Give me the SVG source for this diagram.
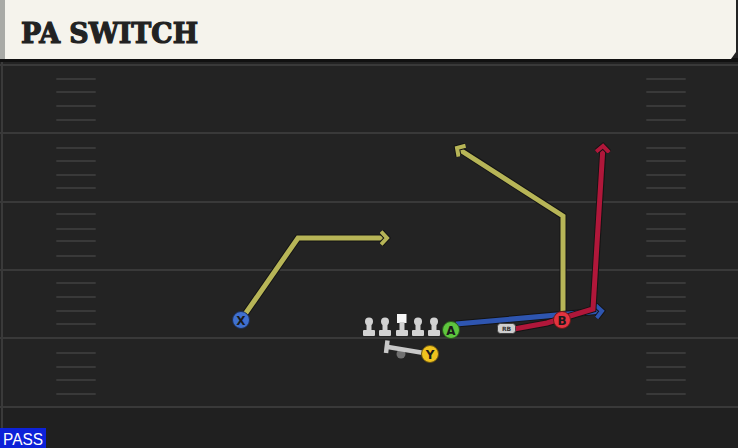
<svg xmlns="http://www.w3.org/2000/svg" width="738" height="448" viewBox="0 0 738 448">
<defs>
<style>
.hash{stroke:#393939;stroke-width:2;stroke-linecap:round;}
.rt{fill:none;stroke-linejoin:miter;stroke-width:5;}
.rto{fill:none;stroke:#141414;stroke-width:7;stroke-linejoin:miter;}
.lbl{font-family:"DejaVu Sans","Liberation Sans",sans-serif;font-weight:bold;font-size:12px;fill:#1a1a1a;text-anchor:middle;}
.ol{fill:#d2d2d2;}
</style>
<marker id="ay" markerWidth="12" markerHeight="16" refX="7" refY="8" orient="auto" markerUnits="userSpaceOnUse"><polyline points="1,1.5 7,8 1,14.5" fill="none" stroke="#141414" stroke-width="6"/><polyline points="1,1.5 7,8 1,14.5" fill="none" stroke="#b7b557" stroke-width="4"/></marker>
<marker id="ar" markerWidth="12" markerHeight="16" refX="7" refY="8" orient="auto" markerUnits="userSpaceOnUse"><polyline points="1,1.5 7,8 1,14.5" fill="none" stroke="#141414" stroke-width="6"/><polyline points="1,1.5 7,8 1,14.5" fill="none" stroke="#b0173a" stroke-width="4"/></marker>
<marker id="ab" markerWidth="12" markerHeight="16" refX="7" refY="8" orient="auto" markerUnits="userSpaceOnUse"><polyline points="1,1.5 7,8 1,14.5" fill="none" stroke="#141414" stroke-width="6"/><polyline points="1,1.5 7,8 1,14.5" fill="none" stroke="#2e55b0" stroke-width="4"/></marker>
</defs>
<rect width="738" height="448" fill="#232323"/>
<rect x="0" y="408" width="738" height="40" fill="#202020"/>
<rect x="1" y="60" width="2" height="388" fill="#3a3a3a"/>
<g id="field">
<g stroke="#393939" stroke-width="2">
<line x1="0" y1="65" x2="738" y2="65"/>
<line x1="0" y1="133" x2="738" y2="133"/>
<line x1="0" y1="202" x2="738" y2="202"/>
<line x1="0" y1="270" x2="738" y2="270"/>
<line x1="0" y1="338" x2="738" y2="338"/>
<line x1="0" y1="407" x2="738" y2="407"/>
</g>
<g class="hash">
<line x1="57" y1="79" x2="95" y2="79"/><line x1="57" y1="92" x2="95" y2="92"/><line x1="57" y1="106" x2="95" y2="106"/><line x1="57" y1="120" x2="95" y2="120"/>
<line x1="57" y1="148" x2="95" y2="148"/><line x1="57" y1="161" x2="95" y2="161"/><line x1="57" y1="175" x2="95" y2="175"/><line x1="57" y1="188" x2="95" y2="188"/>
<line x1="57" y1="214" x2="95" y2="214"/><line x1="57" y1="229" x2="95" y2="229"/><line x1="57" y1="241" x2="95" y2="241"/><line x1="57" y1="256" x2="95" y2="256"/>
<line x1="57" y1="283" x2="95" y2="283"/><line x1="57" y1="297" x2="95" y2="297"/><line x1="57" y1="311" x2="95" y2="311"/><line x1="57" y1="324" x2="95" y2="324"/>
<line x1="57" y1="353" x2="95" y2="353"/><line x1="57" y1="367" x2="95" y2="367"/><line x1="57" y1="380" x2="95" y2="380"/><line x1="57" y1="394" x2="95" y2="394"/>
<line x1="647" y1="79" x2="685" y2="79"/><line x1="647" y1="92" x2="685" y2="92"/><line x1="647" y1="106" x2="685" y2="106"/><line x1="647" y1="120" x2="685" y2="120"/>
<line x1="647" y1="148" x2="685" y2="148"/><line x1="647" y1="161" x2="685" y2="161"/><line x1="647" y1="175" x2="685" y2="175"/><line x1="647" y1="188" x2="685" y2="188"/>
<line x1="647" y1="214" x2="685" y2="214"/><line x1="647" y1="229" x2="685" y2="229"/><line x1="647" y1="241" x2="685" y2="241"/><line x1="647" y1="256" x2="685" y2="256"/>
<line x1="647" y1="283" x2="685" y2="283"/><line x1="647" y1="297" x2="685" y2="297"/><line x1="647" y1="311" x2="685" y2="311"/><line x1="647" y1="324" x2="685" y2="324"/>
<line x1="647" y1="353" x2="685" y2="353"/><line x1="647" y1="367" x2="685" y2="367"/><line x1="647" y1="380" x2="685" y2="380"/><line x1="647" y1="394" x2="685" y2="394"/>
</g>
</g>
<g id="header">
<rect x="0" y="58" width="738" height="4" fill="#111"/>
<polygon points="0,0 736,0 736,52 731,59 0,59" fill="#f5f3ec"/>
<rect x="0" y="0" width="5" height="59" fill="#a9aaa6"/>
<text x="21" y="43" font-family="'DejaVu Serif','Liberation Serif',serif" font-weight="900" font-size="28" fill="#222" stroke="#222" stroke-width="1.2" textLength="177" lengthAdjust="spacingAndGlyphs">PA SWITCH</text>
</g>
<g id="connectors">
<polyline class="rto" points="241,320 298,238 386,238"/>
<polyline class="rt" stroke="#b7b557" points="241,320 298,238 387,238" marker-end="url(#ay)"/>
<polyline class="rto" points="563,318 563,216 459,149"/>
<polyline class="rt" stroke="#b7b557" points="563,318 563,216 457,148" marker-end="url(#ay)"/>
<polyline class="rto" points="456,324 601,311"/>
<polyline class="rt" stroke="#2e55b0" points="456,324 602,311" marker-end="url(#ab)"/>
<polyline class="rto" points="514,329 547,323 593,309 603,148"/>
<polyline class="rt" stroke="#b0173a" points="514,329 547,323 593,309 603,146" marker-end="url(#ar)"/>
</g>
<g id="ol">
<g id="lt"><circle class="ol" cx="369" cy="321.5" r="4"/><rect class="ol" x="366.5" y="322" width="5" height="10"/><rect class="ol" x="363" y="330" width="12" height="6" rx="1"/></g>
<g id="lg"><circle class="ol" cx="385" cy="321.5" r="4"/><rect class="ol" x="382.5" y="322" width="5" height="10"/><rect class="ol" x="379" y="330" width="12" height="6" rx="1"/></g>
<g id="c"><rect x="397" y="314" width="9.5" height="9" fill="#f6f6f6"/><rect class="ol" x="399.5" y="322" width="5" height="10"/><rect class="ol" x="396" y="330" width="12" height="6" rx="1"/></g>
<g id="rg"><circle class="ol" cx="418" cy="321.5" r="4"/><rect class="ol" x="415.5" y="322" width="5" height="10"/><rect class="ol" x="412" y="330" width="12" height="6" rx="1"/></g>
<g id="rt"><circle class="ol" cx="434" cy="321.5" r="4"/><rect class="ol" x="431.5" y="322" width="5" height="10"/><rect class="ol" x="428" y="330" width="12" height="6" rx="1"/></g>
</g>
<g id="qb">
<circle cx="401" cy="354" r="4.5" fill="#707070"/>
<line x1="388" y1="347" x2="424" y2="353" stroke="#c8c8c8" stroke-width="4.5"/>
<line x1="387.5" y1="340.5" x2="386" y2="353" stroke="#c8c8c8" stroke-width="4.5"/>
</g>
<g id="rb">
<rect x="497.5" y="323.5" width="18" height="10" rx="3" fill="#cfcfcf" stroke="#333" stroke-width="0.8"/>
<text x="506.5" y="331" font-family="'DejaVu Sans','Liberation Sans',sans-serif" font-weight="bold" font-size="6" fill="#333" text-anchor="middle">RB</text>
</g>
<g id="x"><circle cx="241" cy="320" r="8.5" fill="#3f70cf" stroke="#1c2e55" stroke-width="1"/><text class="lbl" x="241" y="324.5">X</text></g>
<g id="a"><circle cx="451" cy="330" r="8.5" fill="#5ec53e" stroke="#2a5a1c" stroke-width="1"/><text class="lbl" x="451" y="334.5">A</text></g>
<g id="b"><circle cx="562" cy="320" r="8.5" fill="#e3333f" stroke="#6a1a1a" stroke-width="1"/><text class="lbl" x="562" y="324.5">B</text></g>
<g id="y"><circle cx="430" cy="354" r="8.5" fill="#efc21e" stroke="#6a5412" stroke-width="1"/><text class="lbl" x="430" y="358.5">Y</text></g>
<g id="pass">
<rect x="0" y="428" width="46" height="20" fill="#0d22d8"/>
<text x="23" y="445" font-family="'Liberation Sans','DejaVu Sans',sans-serif" font-size="16" fill="#fff" text-anchor="middle" textLength="40" lengthAdjust="spacingAndGlyphs">PASS</text>
</g>
</svg>
